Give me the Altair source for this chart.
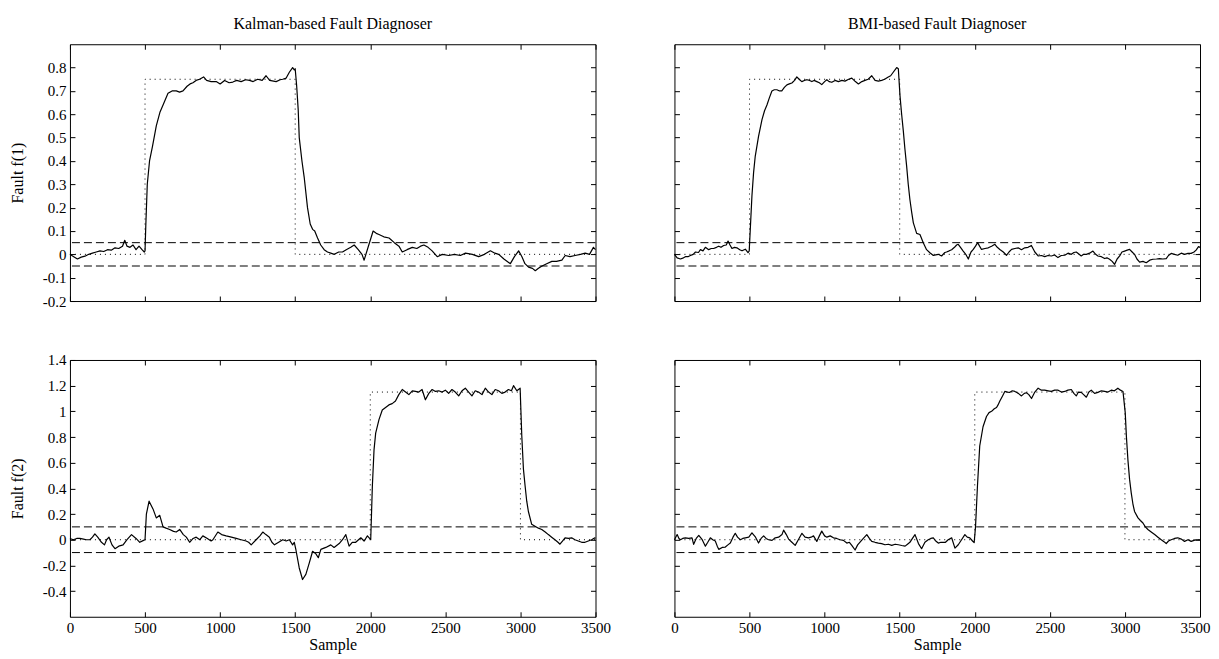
import altair as alt
import pandas as pd

# ---------------- data ----------------
# Kalman-based diagnoser, fault f(1) estimate
k1_x = [0, 25, 50, 75, 100, 125, 150, 175, 200, 225, 250, 275, 300, 325, 350, 365, 380, 400, 420, 440, 460, 480, 495, 500,
        505, 515, 530, 549, 575, 600, 620, 653, 680, 708, 730, 753, 780, 800, 819, 840, 863, 890, 910, 940, 974, 1000,
        1030, 1060, 1085, 1110, 1140, 1170, 1196, 1220, 1250, 1280, 1306, 1330, 1373, 1400, 1417, 1440, 1461, 1483, 1494,
        1500, 1510, 1520, 1527, 1545, 1560, 1582, 1600, 1616, 1630, 1649, 1670, 1693, 1715, 1737, 1760, 1790, 1815, 1840,
        1870, 1893, 1920, 1945, 1959, 1990, 2019, 2040, 2058, 2090, 2125, 2160, 2191, 2213, 2245, 2280, 2310, 2335, 2357,
        2385, 2412, 2446, 2480, 2523, 2560, 2600, 2634, 2680, 2722, 2760, 2800, 2830, 2855, 2890, 2933, 2960, 2988, 3010,
        3030, 3054, 3080, 3099, 3120, 3144, 3175, 3209, 3240, 3276, 3298, 3330, 3364, 3400, 3431, 3460, 3486, 3500]
k1_y = [0.0, -0.01, -0.02, -0.012, -0.008, 0.0, 0.005, 0.01, 0.015, 0.012, 0.02, 0.018, 0.028, 0.025, 0.035, 0.06, 0.035,
        0.03, 0.04, 0.02, 0.035, 0.02, 0.01, 0.015,
        0.12, 0.3, 0.4, 0.46, 0.55, 0.61, 0.64, 0.69, 0.70, 0.70, 0.695, 0.70, 0.72, 0.73, 0.735, 0.745, 0.75, 0.76, 0.745,
        0.74, 0.74, 0.73, 0.745, 0.735, 0.738, 0.745, 0.74, 0.748, 0.745, 0.74, 0.75, 0.745, 0.765, 0.745, 0.74, 0.748,
        0.75, 0.755, 0.78, 0.8, 0.79,
        0.795, 0.72, 0.62, 0.5, 0.4, 0.33, 0.2, 0.13, 0.107, 0.1, 0.07, 0.04, 0.02, 0.01, 0.005, 0.0, 0.01, 0.01, 0.02,
        0.03, 0.04, 0.02, 0.0, -0.025, 0.04, 0.1, 0.09, 0.085, 0.075, 0.07, 0.05, 0.035, 0.01, 0.02, 0.03, 0.025, 0.035,
        0.04, 0.03, 0.015, -0.01, 0.0, -0.005, 0.0, -0.005, 0.005, 0.0, -0.01, 0.0, 0.015, 0.005, 0.0, -0.02, -0.04,
        -0.01, 0.015, -0.01, -0.04, -0.055, -0.06, -0.07, -0.06, -0.05, -0.04, -0.03, -0.03, -0.025, -0.005, -0.01,
        -0.005, 0.0, 0.005, 0.0, 0.03, 0.02]

# Kalman-based diagnoser, fault f(2) estimate
k2_x = [0, 22, 45, 66, 90, 110, 133, 150, 166, 185, 210, 230, 244, 260, 280, 300, 325, 354, 380, 410, 440, 465, 490, 500,
        509, 527, 553, 575, 598, 620, 640, 664, 690, 708, 731, 755, 775, 797, 820, 841, 865, 885, 915, 940, 952, 985,
        1010, 1040, 1075, 1107, 1140, 1173, 1190, 1207, 1240, 1265, 1284, 1305, 1328, 1345, 1362, 1390, 1417, 1440, 1461,
        1483, 1494, 1505, 1527, 1549, 1571, 1594, 1616, 1638, 1654, 1671, 1704, 1737, 1759, 1793, 1815, 1837, 1859, 1880,
        1903, 1937, 1959, 1981, 2003, 2014, 2025, 2036, 2058, 2080, 2102, 2124, 2146, 2168, 2190, 2213, 2235, 2257, 2280,
        2301, 2323, 2345, 2367, 2390, 2412, 2434, 2456, 2478, 2500, 2522, 2544, 2566, 2589, 2611, 2633, 2655, 2677, 2699,
        2721, 2744, 2766, 2788, 2810, 2832, 2854, 2876, 2898, 2920, 2940, 2954, 2976, 2998, 3009, 3020, 3031, 3042, 3053,
        3075, 3097, 3120, 3142, 3165, 3186, 3208, 3230, 3250, 3263, 3280, 3297, 3320, 3341, 3363, 3385, 3408, 3430, 3452,
        3474, 3496, 3500]
k2_y = [0.01, 0.0, 0.01, 0.01, 0.005, 0.0, 0.0, 0.02, 0.045, 0.02, -0.02, -0.04, 0.0, 0.02, -0.04, -0.07, -0.05, -0.04,
        0.0, 0.04, 0.01, -0.02, -0.005, 0.0,
        0.2, 0.3, 0.24, 0.17, 0.19, 0.1, 0.09, 0.08, 0.065, 0.06, 0.08, 0.04, 0.02, -0.02, 0.01, 0.02, 0.0, 0.03, 0.01,
        -0.01, 0.0, 0.06, 0.04, 0.03, 0.02, 0.01, 0.0, -0.01, -0.02, -0.04, 0.0, 0.03, 0.06, 0.04, 0.02, -0.02, -0.04,
        -0.02, 0.0, -0.01, 0.0, -0.04, -0.02, -0.08, -0.22, -0.31, -0.27, -0.18, -0.09, -0.11, -0.14, -0.075, -0.06,
        -0.04, -0.06, -0.03, 0.0, 0.04, -0.05, -0.02, -0.02, 0.015, -0.01, 0.03, 0.0, 0.42, 0.7, 0.83, 0.935, 1.01,
        1.03, 1.05, 1.06, 1.08, 1.13, 1.17, 1.15, 1.13, 1.16, 1.155, 1.15, 1.17, 1.09, 1.14, 1.17, 1.155, 1.16, 1.15,
        1.165, 1.14, 1.17, 1.15, 1.12, 1.16, 1.18, 1.15, 1.12, 1.16, 1.15, 1.13, 1.18, 1.15, 1.13, 1.17, 1.16, 1.14,
        1.15, 1.17, 1.16, 1.2, 1.16, 1.18, 0.81, 0.55, 0.42, 0.3, 0.22, 0.12, 0.105, 0.09, 0.08, 0.06, 0.04, 0.02, 0.0,
        -0.02, -0.035, -0.01, 0.015, 0.01, 0.015, 0.0, -0.01, -0.02, -0.02, -0.01, 0.0, 0.015, 0.01]

# BMI-based diagnoser, fault f(1) estimate
b1_x = [0, 18, 40, 60, 73, 90, 106, 125, 140, 160, 173, 190, 206, 228, 245, 261, 280, 295, 310, 328, 345, 357, 370, 383,
        400, 416, 435, 450, 472, 490, 498, 505, 516, 527, 538, 560, 583, 600, 616, 632, 649, 665, 682, 700, 715, 732, 749,
        765, 782, 800, 815, 830, 848, 865, 882, 900, 915, 930, 948, 965, 981, 1000, 1015, 1030, 1048, 1070, 1092, 1115,
        1136, 1160, 1181, 1205, 1225, 1248, 1269, 1290, 1314, 1336, 1358, 1380, 1400, 1424, 1440, 1457, 1480, 1491, 1502,
        1513, 1524, 1535, 1546, 1557, 1568, 1580, 1591, 1613, 1635, 1657, 1679, 1701, 1724, 1740, 1757, 1779, 1801, 1812,
        1830, 1846, 1865, 1879, 1890, 1905, 1923, 1940, 1957, 1975, 1990, 2005, 2019, 2032, 2045, 2068, 2090, 2112, 2134,
        2150, 2167, 2190, 2211, 2228, 2245, 2267, 2289, 2311, 2333, 2355, 2377, 2400, 2422, 2444, 2466, 2488, 2510, 2532,
        2554, 2576, 2599, 2621, 2643, 2660, 2676, 2695, 2709, 2725, 2743, 2765, 2787, 2805, 2820, 2843, 2865, 2880, 2898,
        2915, 2931, 2948, 2965, 2980, 2998, 3015, 3031, 3048, 3064, 3080, 3098, 3120, 3142, 3165, 3186, 3210, 3231, 3253,
        3275, 3290, 3308, 3330, 3352, 3375, 3397, 3420, 3441, 3460, 3474, 3490, 3500]
b1_y = [0.0, -0.015, -0.02, -0.015, -0.01, -0.01, -0.005, 0.0, 0.01, 0.008, 0.02, 0.015, 0.03, 0.02, 0.025, 0.025, 0.03,
        0.035, 0.03, 0.038, 0.04, 0.057, 0.04, 0.025, 0.03, 0.028, 0.02, 0.015, 0.022, 0.007, 0.015, 0.107, 0.25, 0.35,
        0.42, 0.505, 0.577, 0.615, 0.64, 0.67, 0.70, 0.705, 0.705, 0.7, 0.7, 0.715, 0.726, 0.73, 0.734, 0.745, 0.76, 0.75,
        0.74, 0.745, 0.748, 0.745, 0.74, 0.745, 0.74, 0.735, 0.727, 0.74, 0.748, 0.74, 0.737, 0.745, 0.74, 0.745, 0.742,
        0.75, 0.755, 0.74, 0.73, 0.74, 0.745, 0.75, 0.765, 0.745, 0.742, 0.745, 0.75, 0.76, 0.765, 0.78, 0.8, 0.795, 0.68,
        0.6, 0.53, 0.45, 0.38, 0.3, 0.235, 0.18, 0.135, 0.09, 0.085, 0.05, 0.02, 0.007, -0.005, -0.002, 0.0, -0.007,
        0.008, 0.01, 0.015, 0.02, 0.03, 0.04, 0.043, 0.03, 0.014, 0.0, -0.02, 0.01, 0.021, 0.035, 0.05, 0.035, 0.021,
        0.025, 0.028, 0.035, 0.043, 0.03, 0.021, 0.01, -0.004, 0.01, 0.021, 0.025, 0.028, 0.02, 0.028, 0.03, 0.038, 0.01,
        -0.007, -0.005, -0.01, -0.005, -0.007, -0.003, -0.014, -0.005, -0.004, 0.005, 0.0, 0.008, 0.01, 0.0, -0.007, 0.0,
        0.0, 0.005, 0.014, 0.0, -0.007, -0.01, -0.018, -0.015, -0.021, -0.03, -0.043, -0.02, -0.007, 0.01, 0.014, 0.018,
        0.021, 0.01, 0.0, -0.02, -0.033, -0.03, -0.036, -0.025, -0.021, -0.02, -0.018, -0.02, -0.018, -0.005, 0.004,
        0.0, -0.004, 0.005, 0.0, 0.004, 0.004, 0.01, 0.018, 0.033, 0.03]

# BMI-based diagnoser, fault f(2) estimate
b2_x = [0, 18, 30, 40, 55, 73, 95, 117, 128, 145, 162, 185, 206, 222, 239, 255, 272, 285, 295, 318, 339, 356, 372, 390,
        405, 420, 439, 455, 472, 495, 516, 540, 560, 577, 594, 610, 627, 650, 671, 694, 716, 727, 745, 760, 782, 804, 825,
        849, 870, 893, 910, 926, 948, 965, 981, 1000, 1015, 1037, 1059, 1080, 1103, 1125, 1148, 1165, 1181, 1203, 1220,
        1236, 1258, 1281, 1298, 1314, 1336, 1358, 1380, 1402, 1425, 1447, 1470, 1491, 1514, 1536, 1552, 1568, 1585, 1602,
        1625, 1646, 1668, 1690, 1707, 1724, 1740, 1757, 1775, 1790, 1805, 1823, 1846, 1868, 1890, 1912, 1934, 1950, 1967,
        1985, 1996, 2005, 2018, 2033, 2055, 2078, 2095, 2112, 2130, 2145, 2155, 2167, 2185, 2200, 2218, 2234, 2250, 2267,
        2290, 2311, 2330, 2344, 2360, 2378, 2400, 2422, 2444, 2466, 2488, 2510, 2532, 2555, 2577, 2599, 2620, 2643, 2660,
        2676, 2690, 2709, 2725, 2743, 2760, 2776, 2798, 2820, 2843, 2865, 2887, 2909, 2930, 2953, 2970, 2987, 3002, 3010,
        3020, 3031, 3042, 3053, 3064, 3087, 3103, 3120, 3136, 3153, 3175, 3198, 3220, 3242, 3260, 3275, 3290, 3308, 3330,
        3352, 3375, 3397, 3420, 3441, 3460, 3474, 3496, 3500]
b2_y = [0.0, 0.04, 0.01, 0.0, 0.01, 0.015, 0.01, 0.015, -0.036, 0.01, 0.034, 0.0, -0.05, -0.02, 0.015, 0.0, -0.01, -0.05,
        -0.075, -0.06, -0.057, -0.04, -0.026, 0.02, 0.05, 0.02, 0.0, 0.01, 0.015, 0.02, 0.054, 0.02, -0.026, 0.01, 0.03,
        0.01, 0.0, -0.005, 0.015, 0.02, 0.04, 0.075, 0.04, 0.005, -0.02, -0.044, 0.0, 0.05, 0.02, 0.015, 0.02, 0.03,
        -0.013, 0.03, 0.067, 0.03, 0.02, 0.03, 0.015, 0.01, 0.0, -0.005, -0.026, -0.02, -0.044, -0.08, -0.04, -0.018,
        0.01, 0.04, 0.01, -0.013, -0.02, -0.026, -0.03, -0.039, -0.035, -0.044, -0.035, -0.039, -0.045, -0.05, -0.035,
        -0.02, 0.01, 0.04, -0.03, -0.07, -0.02, 0.0, 0.01, 0.015, -0.01, -0.026, -0.02, -0.021, -0.02, 0.0, 0.015,
        -0.065, -0.039, 0.0, 0.04, 0.02, 0.015, -0.01, -0.023, 0.1, 0.42, 0.73, 0.88, 0.96, 0.99, 1.0, 1.02, 1.03, 1.05,
        1.08, 1.12, 1.155, 1.15, 1.148, 1.16, 1.155, 1.14, 1.12, 1.14, 1.145, 1.13, 1.1, 1.15, 1.18, 1.165, 1.165, 1.16,
        1.155, 1.165, 1.165, 1.15, 1.155, 1.165, 1.17, 1.14, 1.12, 1.15, 1.148, 1.13, 1.11, 1.15, 1.165, 1.14, 1.148,
        1.16, 1.155, 1.15, 1.165, 1.16, 1.18, 1.165, 1.155, 0.99, 0.8, 0.62, 0.47, 0.365, 0.28, 0.22, 0.17, 0.15, 0.13,
        0.1, 0.08, 0.06, 0.04, 0.02, 0.0, -0.015, -0.03, -0.01, 0.0, 0.01, 0.015, 0.005, -0.013, 0.0, -0.013, -0.005,
        0.0, 0.0, 0.0]

# true fault signals (dotted)
f1_true_x = [0, 500, 500, 1500, 1500, 3500]
f1_true_y = [0, 0, 0.75, 0.75, 0, 0]
f2_true_x = [0, 2000, 2000, 3000, 3000, 3500]
f2_true_y = [0, 0, 1.15, 1.15, 0, 0]

# detection thresholds (dashed)
f1_thresholds = [0.05, -0.05]
f2_thresholds = [0.1, -0.1]

x_ticks = [0, 500, 1000, 1500, 2000, 2500, 3000, 3500]
f1_ticks = [-0.2, -0.1, 0, 0.1, 0.2, 0.3, 0.4, 0.5, 0.6, 0.7, 0.8]
f2_ticks = [-0.4, -0.2, 0, 0.2, 0.4, 0.6, 0.8, 1, 1.2, 1.4]
f1_domain = [-0.2, 0.9]
f2_domain = [-0.6, 1.4]

titles = ["Kalman-based Fault Diagnoser", "BMI-based Fault Diagnoser"]

FONT = "Liberation Serif"
W, H = 526, 257


def line_df(xs, ys):
    return pd.DataFrame({"sample": xs, "value": ys, "i": list(range(len(xs)))})


def panel(est_x, est_y, tx, ty, thr, ydom, yticks, ytitle, show_x, show_y, title, last_shift):
    xscale = alt.Scale(domain=[0, 3500], nice=False, zero=False)
    yscale = alt.Scale(domain=ydom, nice=False, zero=False)
    xb = dict(orient="bottom", values=x_ticks, tickSize=5, offset=-5, domain=False, grid=False,
              tickColor="black", labels=show_x, labelFlush=False, labelOverlap=False,
              labelPadding=4, labelExpr="datum.value + ''")
    if show_x:
        xb.update(title="Sample", titlePadding=1)
        if last_shift:
            xb.update(labelOffset={"condition": {"test": "datum.value >= 3500", "value": -5}, "value": 0})
    else:
        xb.update(title="")
    yl = dict(orient="left", values=yticks, tickSize=5, offset=-5, domain=False, grid=False,
              tickColor="black", labels=show_y, labelFlush=False, labelOverlap=False,
              labelPadding=4, labelExpr="datum.value + ''")
    if show_y:
        yl.update(title=ytitle, titlePadding=17)
    else:
        yl.update(title="")
    xt = dict(orient="top", values=x_ticks, tickSize=5, offset=-5, domain=False, grid=False,
              tickColor="black", labels=False, title="")
    yr = dict(orient="right", values=yticks, tickSize=5, offset=-5, domain=False, grid=False,
              tickColor="black", labels=False, title="")

    thr_layer = alt.Chart(pd.DataFrame({"value": thr})).mark_rule(
        color="black", strokeWidth=1, strokeDash=[8, 4]
    ).encode(y=alt.Y("value:Q", scale=yscale, axis=None))

    truth_layer = alt.Chart(line_df(tx, ty)).mark_line(
        color="black", strokeWidth=1, strokeDash=[1, 4]
    ).encode(
        x=alt.X("sample:Q", scale=xscale, axis=alt.Axis(**xt)),
        y=alt.Y("value:Q", scale=yscale, axis=alt.Axis(**yr)),
        order="i:Q",
    )

    est_layer = alt.Chart(line_df(est_x, est_y)).mark_line(
        color="black", strokeWidth=1.2, strokeJoin="round"
    ).encode(
        x=alt.X("sample:Q", scale=xscale, axis=alt.Axis(**xb)),
        y=alt.Y("value:Q", scale=yscale, axis=alt.Axis(**yl)),
        order="i:Q",
    )

    ch = alt.layer(thr_layer, truth_layer, est_layer).resolve_axis(x="independent", y="independent")
    props = dict(width=W, height=H)
    if title:
        props["title"] = alt.TitleParams(text=title, font=FONT, fontSize=16, fontWeight="normal",
                                         color="black", offset=12, anchor="middle")
    return ch.properties(**props)


p11 = panel(k1_x, k1_y, f1_true_x, f1_true_y, f1_thresholds, f1_domain, f1_ticks, "Fault f(1)", False, True, titles[0], False)
p12 = panel(b1_x, b1_y, f1_true_x, f1_true_y, f1_thresholds, f1_domain, f1_ticks, "", False, False, titles[1], False)
p21 = panel(k2_x, k2_y, f2_true_x, f2_true_y, f2_thresholds, f2_domain, f2_ticks, "Fault f(2)", True, True, None, False)
p22 = panel(b2_x, b2_y, f2_true_x, f2_true_y, f2_thresholds, f2_domain, f2_ticks, "", True, False, None, True)

chart = alt.concat(p11, p12, p21, p22, columns=2).properties(
    spacing={"row": 59, "column": 79},
    bounds="flush",
    padding={"left": 0, "top": 7, "right": 0, "bottom": 0},
    background="white",
).configure_view(
    stroke="black", strokeWidth=1
).configure_axis(
    labelFont=FONT, labelFontSize=15, labelColor="black",
    titleFont=FONT, titleFontSize=16, titleFontWeight="normal", titleColor="black",
)

chart.save("out.html", embed_options={"renderer": "svg", "actions": False})
